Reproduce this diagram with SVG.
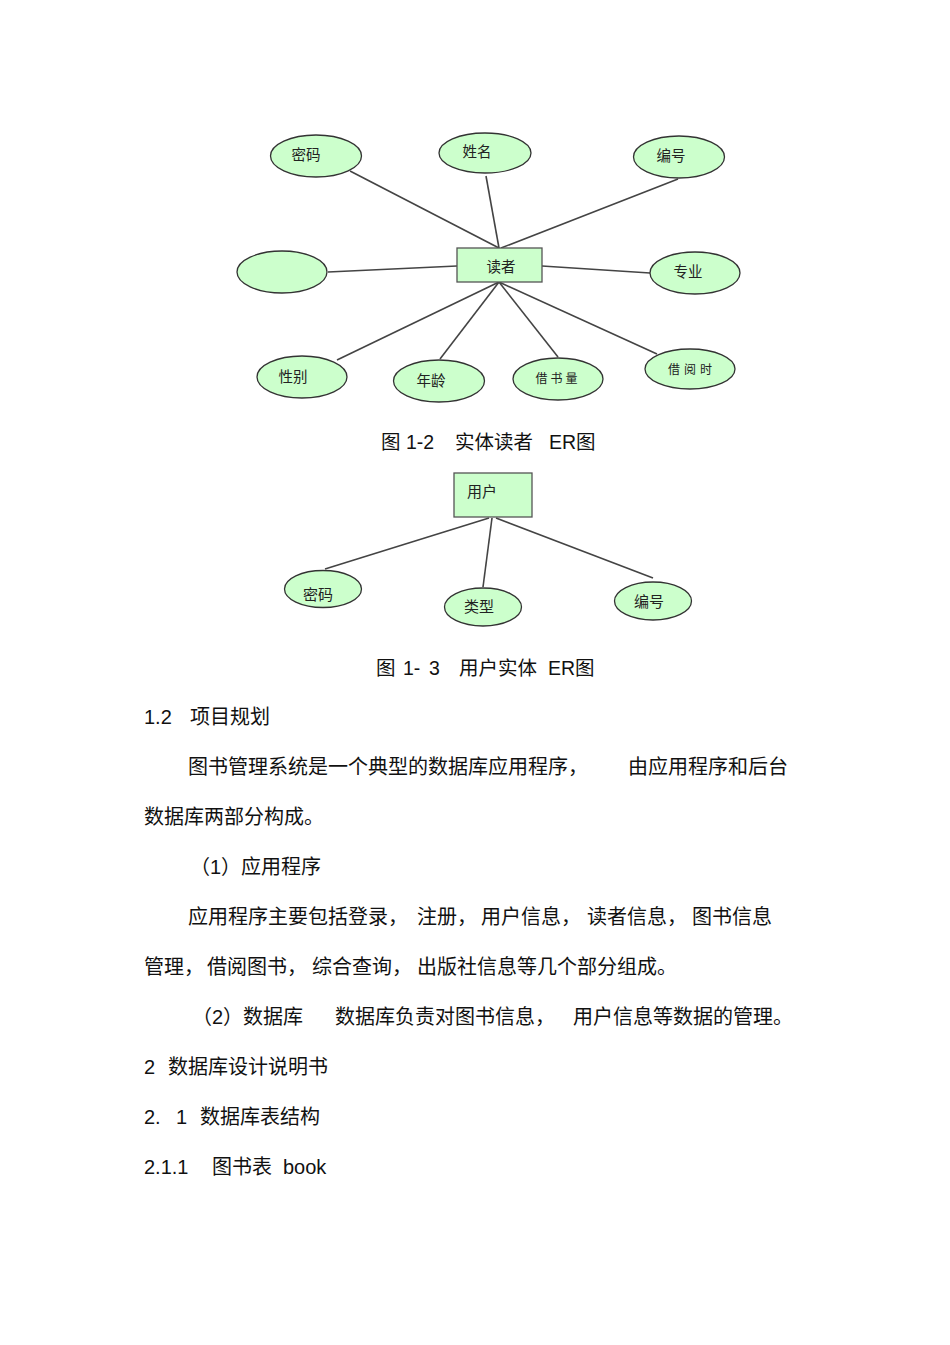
<svg xmlns="http://www.w3.org/2000/svg" width="950" height="1345" viewBox="0 0 950 1345">
<style>
.ent{fill:#ccffcc;stroke:#555;stroke-width:1.3}
.att{fill:#ccffcc;stroke:#333;stroke-width:1.3}
.ln{stroke:#444;stroke-width:1.6;fill:none}
.lb{font-family:"Liberation Sans","Noto Sans CJK SC",sans-serif;font-size:14.5px;fill:#222;text-anchor:middle}
.lb2{font-family:"Liberation Sans","Noto Sans CJK SC",sans-serif;font-size:15px;fill:#222;text-anchor:middle}
.sm{font-size:12px}
.cap{font-family:"Liberation Sans","Noto Sans CJK SC",sans-serif;font-size:19.5px;fill:#111}
.bd{font-family:"Liberation Sans","Noto Sans CJK SC",sans-serif;font-size:20px;fill:#111}
</style>
<rect width="950" height="1345" fill="#fff"/>

<g id="connectors">
<line class="ln" x1="350" y1="171" x2="499" y2="248"/>
<line class="ln" x1="486" y1="176" x2="499" y2="248"/>
<line class="ln" x1="678" y1="179" x2="501" y2="248"/>
<line class="ln" x1="328" y1="272" x2="457" y2="266"/>
<line class="ln" x1="542" y1="266" x2="650" y2="273"/>
<line class="ln" x1="337" y1="360" x2="499" y2="282"/>
<line class="ln" x1="440" y1="359" x2="499" y2="282"/>
<line class="ln" x1="558" y1="357" x2="499" y2="282"/>
<line class="ln" x1="657" y1="354" x2="499" y2="282"/>
<line class="ln" x1="325" y1="569" x2="489" y2="518"/>
<line class="ln" x1="483" y1="587" x2="492" y2="518"/>
<line class="ln" x1="653" y1="578" x2="496" y2="518"/>
</g>

<g id="reader">
<rect class="ent" x="457" y="248" width="85" height="34"/>
<text class="lb" x="501" y="272">读者</text>
</g>
<g id="r-mima"><ellipse class="att" cx="316" cy="156" rx="45.5" ry="21"/><text class="lb" x="306" y="160">密码</text></g>
<g id="r-xingming"><ellipse class="att" cx="485" cy="153" rx="46" ry="20"/><text class="lb" x="477" y="157">姓名</text></g>
<g id="r-bianhao"><ellipse class="att" cx="679" cy="157" rx="45.5" ry="21"/><text class="lb" x="671" y="161">编号</text></g>
<g id="r-blank"><ellipse class="att" cx="282" cy="272" rx="45" ry="21"/></g>
<g id="r-zhuanye"><ellipse class="att" cx="695" cy="273" rx="45" ry="21"/><text class="lb" x="688" y="277">专业</text></g>
<g id="r-xingbie"><ellipse class="att" cx="302" cy="377" rx="45" ry="21"/><text class="lb" x="293" y="382">性别</text></g>
<g id="r-nianling"><ellipse class="att" cx="439" cy="381" rx="45.5" ry="21"/><text class="lb" x="431" y="386">年龄</text></g>
<g id="r-jieshuliang"><ellipse class="att" cx="558" cy="379" rx="45" ry="21"/><text class="lb sm" x="558" y="383" letter-spacing="3">借书量</text></g>
<g id="r-jieyueshi"><ellipse class="att" cx="690" cy="369" rx="45" ry="20"/><text class="lb sm" x="692" y="374" letter-spacing="4">借阅时</text></g>

<g id="user">
<rect class="ent" x="454" y="473" width="78" height="44"/>
<text class="lb2" x="482" y="497">用户</text>
</g>
<g id="u-mima"><ellipse class="att" cx="323" cy="589" rx="38.5" ry="18.5"/><text class="lb2" x="318" y="600">密码</text></g>
<g id="u-leixing"><ellipse class="att" cx="483" cy="607" rx="38.5" ry="19"/><text class="lb2" x="479" y="612">类型</text></g>
<g id="u-bianhao"><ellipse class="att" cx="653" cy="601" rx="38.5" ry="19"/><text class="lb2" x="649" y="607">编号</text></g>

<g id="text">
<text class="cap" y="449"><tspan x="381">图</tspan><tspan x="406">1-2</tspan><tspan x="455">实体读者</tspan><tspan x="549">ER</tspan><tspan x="576">图</tspan></text>
<text class="cap" y="675"><tspan x="376">图</tspan><tspan x="403">1-</tspan><tspan x="429">3</tspan><tspan x="459">用户实体</tspan><tspan x="548">ER</tspan><tspan x="575">图</tspan></text>
<text class="bd" y="724"><tspan x="144">1.2</tspan><tspan x="190">项目规划</tspan></text>
<text class="bd" y="774"><tspan x="188">图书管理系统是一个典型的数据库应用程序，</tspan><tspan x="628">由应用程序和后台</tspan></text>
<text class="bd" x="144" y="824">数据库两部分构成。</text>
<text class="bd" x="190" y="874">（1）应用程序</text>
<text class="bd" y="924"><tspan x="188">应用程序主要包括登录，</tspan><tspan x="417">注册，</tspan><tspan x="481">用户信息，</tspan><tspan x="587">读者信息，</tspan><tspan x="692">图书信息</tspan></text>
<text class="bd" y="974"><tspan x="144">管理，</tspan><tspan x="207">借阅图书，</tspan><tspan x="312">综合查询，</tspan><tspan x="417">出版社信息等几个部分组成。</tspan></text>
<text class="bd" y="1024"><tspan x="192">（2）数据库</tspan><tspan x="335">数据库负责对图书信息，</tspan><tspan x="573">用户信息等数据的管理。</tspan></text>
<text class="bd" y="1074"><tspan x="144">2</tspan><tspan x="168">数据库设计说明书</tspan></text>
<text class="bd" y="1124"><tspan x="144">2.</tspan><tspan x="176">1</tspan><tspan x="200">数据库表结构</tspan></text>
<text class="bd" y="1174"><tspan x="144">2.1.1</tspan><tspan x="212">图书表</tspan><tspan x="283">book</tspan></text>
</g>
</svg>
